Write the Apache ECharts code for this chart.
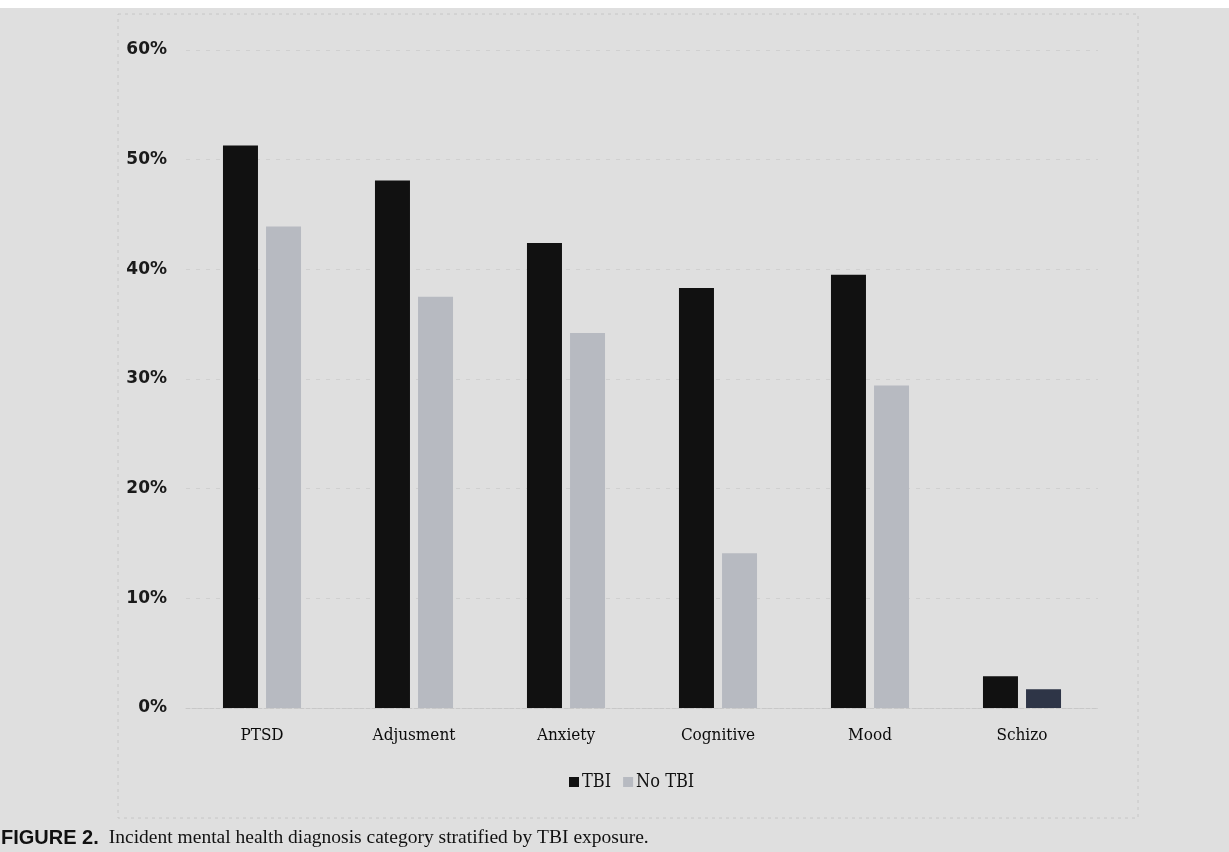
<!DOCTYPE html>
<html><head><meta charset="utf-8">
<script src="https://cdn.jsdelivr.net/npm/echarts@6/dist/echarts.min.js"></script>
<style>html,body{margin:0;padding:0;background:#fff;}#c{width:1229px;height:852px;}</style>
</head><body><div id="c"></div>
<script>
const categories = ['PTSD','Adjusment','Anxiety','Cognitive','Mood','Schizo'];
const tbiValues = [51.3, 48.1, 42.4, 38.3, 39.5, 2.9];
const noTbiValues = [43.9, 37.5, 34.2, 14.1, 29.4, 1.7];
const yTicks = [0, 10, 20, 30, 40, 50, 60];

const chart = echarts.init(document.getElementById('c'));
const noTbiData = noTbiValues.map((v, i) => ({
  value: v,
  itemStyle: i === categories.length - 1 ? { color: '#2e3547' } : undefined
}));
chart.setOption({
  backgroundColor: '#dfdfdf',
  animation: false,
  graphic: [
    { type: 'rect', shape: { x: 0, y: 0, width: 1229, height: 8 }, style: { fill: '#ffffff' }, silent: true },
    { type: 'rect', shape: { x: 118, y: 14, width: 1020, height: 804 },
      style: { fill: 'none', stroke: '#c6c6c6', lineWidth: 1, lineDash: [3, 4] }, silent: true },
    { type: 'text', left: 1, top: 828,
      style: { rich: {
        b: { fontFamily: 'Liberation Sans Narrow, Liberation Sans, Arial', fontWeight: 'bold', fontSize: 20, fill: '#111' },
        n: { fontFamily: 'Liberation Serif, Times New Roman, serif', fontSize: 19.5, fill: '#111', padding: [0, 0, 0, 10] } },
        text: '{b|FIGURE 2.}{n|Incident mental health diagnosis category stratified by TBI exposure.}' } }
  ],
  legend: {
    data: ['TBI', 'No TBI'], left: 564, top: 768, itemWidth: 10, itemHeight: 10, itemGap: 12,
    icon: 'rect',
    textStyle: { fontFamily: 'DejaVu Serif Condensed, Liberation Serif, serif', fontSize: 18, color: '#111', padding: [0, 0, 0, -2] }
  },
  grid: { left: 186, right: 131, top: 50, bottom: 144 },
  xAxis: {
    type: 'category', data: categories,
    axisLine: { show: true, lineStyle: { color: '#c8c8c8', type: 'dashed' } },
    axisTick: { show: false },
    axisLabel: { margin: 19, fontFamily: 'DejaVu Serif Condensed, Liberation Serif, serif', fontSize: 17, color: '#0a0a0a' }
  },
  yAxis: {
    type: 'value', min: yTicks[0], max: yTicks[yTicks.length - 1], interval: 10,
    axisLine: { show: false }, axisTick: { show: false },
    splitLine: { show: true, lineStyle: { color: '#d0d0d0', type: [4, 6] } },
    axisLabel: { margin: 19, formatter: v => v + '%', fontFamily: 'DejaVu Sans, Verdana, sans-serif', fontWeight: 'bold', fontSize: 17, color: '#1a1a1a' }
  },
  series: [
    { name: 'TBI', type: 'bar', data: tbiValues, barWidth: 35, barGap: '23%',
      itemStyle: { color: '#111111' } },
    { name: 'No TBI', type: 'bar', data: noTbiData, barWidth: 35,
      itemStyle: { color: '#b7bac1' } }
  ]
});
</script></body></html>
